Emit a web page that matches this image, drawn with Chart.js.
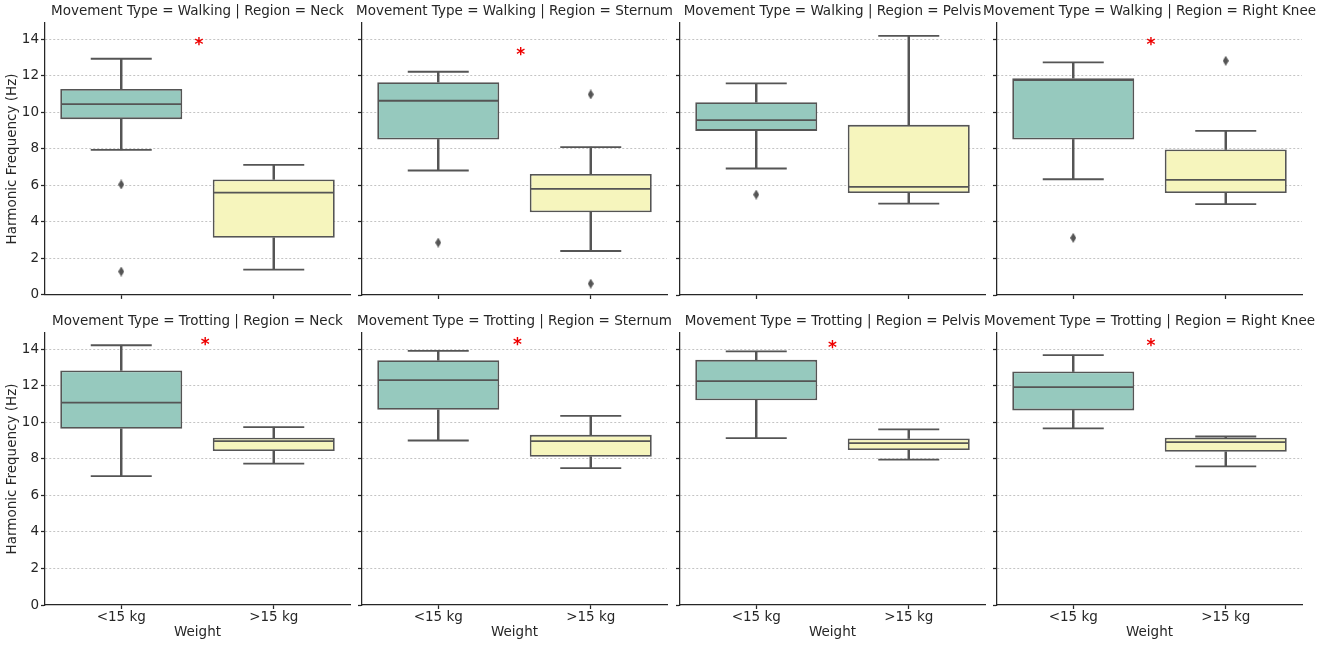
<!DOCTYPE html>
<html>
<head>
<meta charset="utf-8">
<script src="https://cdn.jsdelivr.net/npm/chart.js@4/dist/chart.umd.min.js"></script>
<style>
  html, body { margin: 0; padding: 0; background: #fff; overflow: hidden; }
  body { position: relative; width: 1325px; height: 645px; }
  canvas { position: absolute; }
</style>
</head>
<body>
<script>
// facets: rows = movement type, columns = region
const movements = ["Walking", "Trotting"];
const regions = ["Neck", "Sternum", "Pelvis", "Right Knee"];
const weights = ["<15 kg", ">15 kg"];

// one entry per panel (Walking x4, then Trotting x4), each [<15 kg, >15 kg]
const whiskerLow = [[7.95, 1.39], [6.82, 2.41], [6.93, 5.01], [6.34, 4.98],
                    [7.06, 7.74], [9.01, 7.50], [9.14, 7.96], [9.67, 7.59]];
const q1 = [[9.63, 3.13], [8.52, 4.53], [8.99, 5.59], [8.52, 5.59],
            [9.65, 8.43], [10.69, 8.12], [11.22, 8.49], [10.66, 8.39]];
const medians = [[10.45, 5.61], [10.64, 5.81], [9.58, 5.92], [11.77, 6.31],
                 [11.09, 8.98], [12.32, 8.98], [12.26, 8.87], [11.93, 8.92]];
const q3 = [[11.29, 6.33], [11.66, 6.63], [10.56, 9.32], [11.88, 7.97],
            [12.85, 9.16], [13.41, 9.32], [13.43, 9.12], [12.79, 9.16]];
const whiskerHigh = [[12.94, 7.13], [12.23, 8.10], [11.59, 14.20], [12.74, 8.99],
                     [14.23, 9.74], [13.92, 10.36], [13.89, 9.62], [13.69, 9.23]];
const outliers = [[[6.05, 1.28], []], [[2.87], [10.99, 0.62]], [[5.50], []], [[3.13], [12.83]],
                  [[], []], [[], []], [[], []], [[], []]];

// significance marks (category index position, value); null = none
const starX = [0.51, 0.54, null, 0.51, 0.55, 0.52, 0.50, 0.51];
const starY = [13.93, 13.36, null, 13.91, 14.45, 14.45, 14.29, 14.40];

const yTicks = [0, 2, 4, 6, 8, 10, 12, 14];

const boxColors = ["#96c9be", "#f6f5bd"];
const lineColor = "#555555";
const inkColor = "#262626";
const strokeW = 1.8;

Chart.defaults.font.family = '"DejaVu Sans", sans-serif';
Chart.defaults.font.size = 13.5;
Chart.defaults.color = inkColor;

const plotLefts = [45, 362, 680, 997];
const plotWidth = 305;
const plotHeight = 272;
const axisRoom = 45;
const titleRoom = 23;

function diamond() {
  const c = document.createElement("canvas");
  c.width = 6;
  c.height = 10;
  const g = c.getContext("2d");
  g.fillStyle = lineColor;
  g.beginPath();
  g.moveTo(3, 0);
  g.lineTo(6, 5);
  g.lineTo(3, 10);
  g.lineTo(0, 5);
  g.closePath();
  g.fill();
  return c;
}
const diamondMark = diamond();

const starPlugin = {
  id: "star",
  afterDatasetsDraw(chart, args, opts) {
    if (opts.y == null) return;
    const { ctx, scales: { x, y } } = chart;
    ctx.save();
    ctx.fillStyle = "#ee0000";
    ctx.font = 'bold 17px "DejaVu Sans"';
    ctx.textAlign = "center";
    ctx.textBaseline = "alphabetic";
    ctx.fillText("*", x.getPixelForValue(opts.x), y.getPixelForValue(opts.y) + 9);
    ctx.restore();
  }
};

function makePanel(row, col) {
  const p = row * regions.length + col;
  const bottomRow = row === movements.length - 1;
  const xRoom = bottomRow ? 40 : 10;

  const canvas = document.createElement("canvas");
  canvas.width = axisRoom * 2 + plotWidth;
  canvas.height = titleRoom + plotHeight + xRoom;
  canvas.style.left = (plotLefts[col] - axisRoom) + "px";
  canvas.style.top = (bottomRow ? 310 : 0) + "px";
  document.body.appendChild(canvas);

  const caps = [];
  const mids = [];
  const fliers = [];
  weights.forEach((w, g) => {
    caps.push({ x: w, y: whiskerLow[p][g] }, { x: w, y: whiskerHigh[p][g] });
    mids.push({ x: w, y: medians[p][g] });
    outliers[p][g].forEach(v => fliers.push({ x: w, y: v }));
  });

  new Chart(canvas, {
    type: "bar",
    data: {
      labels: weights,
      datasets: [
        {
          label: "box",
          data: weights.map((_, g) => [q1[p][g], q3[p][g]]),
          backgroundColor: boxColors,
          borderColor: lineColor,
          borderWidth: strokeW,
          borderSkipped: false,
          grouped: false,
          barPercentage: 0.8,
          categoryPercentage: 1,
          order: 2
        },
        {
          label: "lower whisker",
          data: weights.map((_, g) => [whiskerLow[p][g], q1[p][g]]),
          backgroundColor: lineColor,
          borderWidth: 0,
          grouped: false,
          barThickness: strokeW,
          order: 3
        },
        {
          label: "upper whisker",
          data: weights.map((_, g) => [q3[p][g], whiskerHigh[p][g]]),
          backgroundColor: lineColor,
          borderWidth: 0,
          grouped: false,
          barThickness: strokeW,
          order: 3
        },
        {
          type: "line",
          label: "caps",
          data: caps,
          showLine: false,
          pointStyle: "line",
          pointRadius: 30.5,
          pointBorderWidth: strokeW,
          pointBorderColor: lineColor,
          order: 1
        },
        {
          type: "line",
          label: "median",
          data: mids,
          showLine: false,
          pointStyle: "line",
          pointRadius: 60,
          pointBorderWidth: strokeW,
          pointBorderColor: lineColor,
          order: 0
        },
        {
          type: "line",
          label: "outliers",
          data: fliers,
          showLine: false,
          pointStyle: diamondMark,
          pointRadius: 5,
          order: 0
        }
      ]
    },
    options: {
      responsive: false,
      animation: false,
      events: [],
      layout: { padding: 0, autoPadding: false },
      plugins: {
        legend: { display: false },
        tooltip: { enabled: false },
        title: {
          display: true,
          text: "Movement Type = " + movements[row] + " | Region = " + regions[col],
          color: inkColor,
          font: { size: 13.5, weight: "normal", lineHeight: "16px" },
          padding: { top: 3, bottom: 4 }
        },
        star: { x: starX[p], y: starY[p] }
      },
      scales: {
        x: {
          type: "category",
          offset: true,
          grid: {
            display: true,
            drawOnChartArea: false,
            drawTicks: true,
            offset: false,
            tickLength: 4,
            tickWidth: 1.25,
            tickColor: inkColor
          },
          border: { display: true, color: inkColor, width: 1.25 },
          ticks: { display: bottomRow, padding: 0, color: inkColor },
          title: {
            display: bottomRow,
            text: "Weight",
            color: inkColor,
            padding: { top: 0, bottom: 4 }
          },
          afterFit: s => { s.height = xRoom; }
        },
        y: {
          min: 0,
          max: 14.9,
          z: 1,
          afterBuildTicks: s => { s.ticks = yTicks.map(v => ({ value: v })); },
          grid: {
            color: c => (c.tick && c.tick.value === 0 ? "rgba(0,0,0,0)" : "#c4c4c4"),
            lineWidth: 1,
            tickLength: 4,
            tickWidth: 1.25,
            tickColor: inkColor
          },
          border: { display: true, color: inkColor, width: 1.25, dash: [2, 2] },
          ticks: { display: col === 0, padding: 2, color: inkColor },
          title: {
            display: col === 0,
            text: "Harmonic Frequency (Hz)",
            color: inkColor,
            padding: { top: 4, bottom: 0 }
          },
          afterFit: s => { s.width = axisRoom; }
        },
        yr: {
          type: "linear",
          position: "right",
          display: true,
          grid: { display: false },
          border: { display: false },
          ticks: { display: false },
          afterFit: s => { s.width = axisRoom; }
        }
      }
    },
    plugins: [starPlugin]
  });
}

movements.forEach((m, row) => regions.forEach((r, col) => makePanel(row, col)));
</script>
</body>
</html>
